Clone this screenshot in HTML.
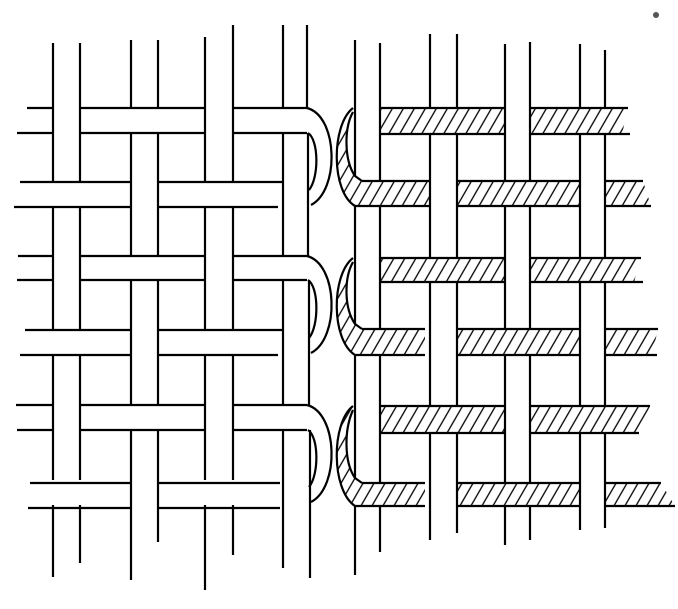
<!DOCTYPE html>
<html><head><meta charset="utf-8"><style>html,body{margin:0;padding:0;background:#fff}svg{display:block}</style></head>
<body>
<svg width="678" height="609" viewBox="0 0 678 609" xmlns="http://www.w3.org/2000/svg">
<defs>
<pattern id="h" patternUnits="userSpaceOnUse" width="11" height="30" patternTransform="skewX(-30)">
<line x1="4" y1="0" x2="4" y2="30" stroke="#000" stroke-width="1.5"/>
</pattern>
</defs>
<g stroke="#000" stroke-width="2.2" fill="none" stroke-linecap="butt">
<path d="M53,43V182M53,207V330M53,355V480M53,505V577"/>
<path d="M80,43V182M80,207V330M80,355V480M80,505V563"/>
<path d="M131,40V108M131,133V256M131,280V405M131,430V580"/>
<path d="M158,40V108M158,133V256M158,280V405M158,430V542"/>
<path d="M205,37V182M205,207V330M205,355V480M205,505V590"/>
<path d="M233,25V182M233,207V330M233,355V480M233,505V555"/>
<path d="M283,25V108M283,133V256M283,280V405M283,430V568"/>
<path d="M307,25V108M308,133V256M309,280V405M310,430V578"/>
<path d="M27,108H53M80,108H205M233,108H307M17,133H53M80,133H205M233,133H307"/>
<path d="M18,256H53M80,256H205M233,256H307M17,280H53M80,280H205M233,280H307"/>
<path d="M16,405H53M80,405H205M233,405H307M17,430H53M80,430H205M233,430H307"/>
<path d="M20,182H131M158,182H283M14,207H131M158,207H278"/>
<path d="M25,330H131M158,330H283M20,355H131M158,355H278"/>
<path d="M30,483H131M158,483H280M28,508H131M158,508H280"/>
<path d="M307,108C338,116 340,190 311,205M308,133C319,140 319,178 309,190"/>
<path d="M307,256C338,264 340,338 311,353M308,280C319,287 319,326 309,338"/>
<path d="M307,405C338,413 340,487 311,502M308,430C319,437 319,475 309,487"/>
<g fill="url(#h)" stroke="none">
<rect x="380" y="108" width="125" height="26"/><path d="M530,108H628L622,134H530Z"/>
<rect x="380" y="258" width="125" height="24"/><path d="M530,258H641L634,282H530Z"/>
<rect x="380" y="406" width="125" height="27"/><path d="M530,406H650L639,433H530Z"/>
<path d="M353,108C331,125 331,192 355,206H430V181H362L355,176C344,160 344,128 353,108Z"/>
<rect x="457" y="181" width="123" height="25"/><path d="M605,181H643L651,206H605Z"/>
<path d="M353,258C331,275 331,340 355,355H425V329H362L355,324C344,308 344,278 353,258Z"/>
<rect x="457" y="329" width="123" height="26"/><path d="M605,329H658L652,355H605Z"/>
<path d="M353,406C331,423 331,490 355,506H425V483H362L355,478C344,462 344,430 353,406Z"/>
<rect x="457" y="483" width="123" height="23"/><path d="M605,483H661L675,506H605Z"/>
</g>
<path d="M380,108H505M530,108H628M380,134H505M530,134H630"/>
<path d="M380,258H505M530,258H641M380,282H505M530,282H643"/>
<path d="M380,406H505M530,406H650M380,433H505M530,433H639"/>
<path d="M362,181H430M457,181H580M605,181H643M355,206H430M457,206H580M605,206H651"/>
<path d="M362,329H425M457,329H580M605,329H658M355,355H425M457,355H580M605,355H657"/>
<path d="M362,483H425M457,483H580M605,483H661M355,506H425M457,506H580M605,506H675"/>
<path d="M353,108C331,125 331,192 355,206M353,112C344,128 344,160 355,176L362,181"/>
<path d="M353,258C331,275 331,340 355,355M353,262C344,278 344,308 355,324L362,329"/>
<path d="M353,406C331,423 331,490 355,506M353,410C344,430 344,462 355,478L362,483"/>
<path d="M355,40V176M355,206V324M355,355V478M355,506V575"/>
<path d="M380,43V181M380,206V329M380,355V483M380,506V552"/>
<path d="M430,34V108M430,134V258M430,282V406M430,433V540"/>
<path d="M457,34V108M457,134V258M457,282V406M457,433V533"/>
<path d="M505,44V181M505,206V329M505,355V483M505,506V545"/>
<path d="M530,42V181M530,206V329M530,355V483M530,506V540"/>
<path d="M580,44V108M580,134V258M580,282V406M580,433V530"/>
<path d="M605,50V108M605,134V258M605,282V406M605,433V528"/>
</g>
<circle cx="656" cy="15" r="3" fill="#555"/>
</svg>
</body></html>
